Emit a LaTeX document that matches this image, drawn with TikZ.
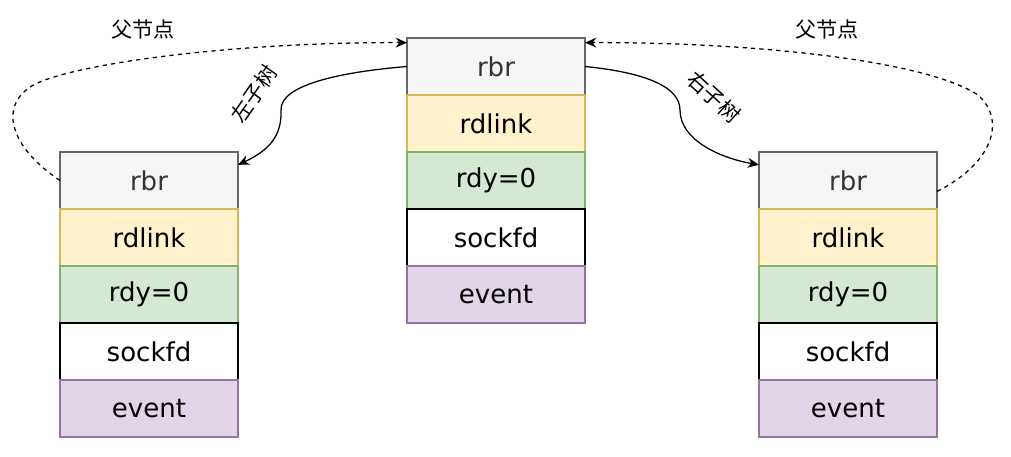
\documentclass[tikz,border=0pt]{standalone}
\usepackage{fontspec}
\setmainfont{DejaVu Sans}
\newfontfamily\cjk{Noto Sans CJK SC}
\usetikzlibrary{arrows.meta}
\definecolor{rbrfill}{HTML}{F5F5F5}
\definecolor{rbrline}{HTML}{666666}
\definecolor{linkfill}{HTML}{FFF2CC}
\definecolor{linkline}{HTML}{D6B656}
\definecolor{rdyfill}{HTML}{D5E8D4}
\definecolor{rdyline}{HTML}{82B366}
\definecolor{evfill}{HTML}{E1D5E7}
\definecolor{evline}{HTML}{9673A6}

\begin{document}
\begin{tikzpicture}[x=0.025cm, y=-0.025cm,
  cell/.style={draw, line width=0.8pt, minimum width=4.45cm, minimum height=1.425cm,
    inner sep=0pt, outer sep=0pt, font=\fontsize{18.5}{22}\selectfont},
  rbrcell/.style={cell, fill=rbrfill, draw=rbrline, text=black!80},
  linkcell/.style={cell, fill=linkfill, draw=linkline},
  rdycell/.style={cell, fill=rdyfill, draw=rdyline},
  fdcell/.style={cell, fill=white, draw=black},
  evcell/.style={cell, fill=evfill, draw=evline},
  tag/.style={font=\cjk\fontsize{15}{18}\selectfont, inner sep=1pt},
  child/.style={-{Stealth[length=8pt, width=7pt]}, line width=0.9pt},
  parent/.style={-{Stealth[length=8pt, width=7pt]}, line width=0.9pt, dash pattern=on 3pt off 3pt}]
  \useasboundingbox (0,0) rectangle (1011,456);

  % Middle: the parent node
  \node[rbrcell] (m1) at (496, 66.5) {rbr};
  \node[linkcell] (m2) at (496, 123.5) {rdlink};
  \node[rdycell] (m3) at (496, 180.5) {rdy=0};
  \node[fdcell] (m4) at (496, 237.5) {sockfd};
  \node[evcell] (m5) at (496, 294.5) {event};

  % Left: left child
  \node[rbrcell] (l1) at (149, 180.5) {rbr};
  \node[linkcell] (l2) at (149, 237.5) {rdlink};
  \node[rdycell] (l3) at (149, 294.5) {rdy=0};
  \node[fdcell] (l4) at (149, 351.5) {sockfd};
  \node[evcell] (l5) at (149, 408.5) {event};

  % Right: right child
  \node[rbrcell] (r1) at (848, 180.5) {rbr};
  \node[linkcell] (r2) at (848, 237.5) {rdlink};
  \node[rdycell] (r3) at (848, 294.5) {rdy=0};
  \node[fdcell] (r4) at (848, 351.5) {sockfd};
  \node[evcell] (r5) at (848, 408.5) {event};

  % subtree links
  \draw[child] (m1.west) .. controls (340, 72) and (280, 85) .. (281, 110)
    .. controls (282, 135) and (270, 150) .. (l1.10);
  \draw[child] (m1.east) .. controls (640, 72) and (680, 85) .. (680, 110)
    .. controls (680, 140) and (720, 158) .. (r1.170);
  \node[tag, rotate=55] (ltag) at (254, 94) {左子树};
  \node[tag, rotate=-42] (rtag) at (714, 97) {右子树};

  % parent links
  \draw[parent] (l1.west) .. controls (0, 140) and (0, 95) .. (45, 80)
    .. controls (100, 60) and (250, 42) .. (m1.165);
  \draw[parent] (r1.-7) .. controls (990, 165) and (1008, 122) .. (978, 95)
    .. controls (925, 60) and (750, 42) .. (m1.15);
  \node[tag] (lpar) at (143, 30) {父节点};
  \node[tag] (rpar) at (827, 30) {父节点};
\end{tikzpicture}
\end{document}
